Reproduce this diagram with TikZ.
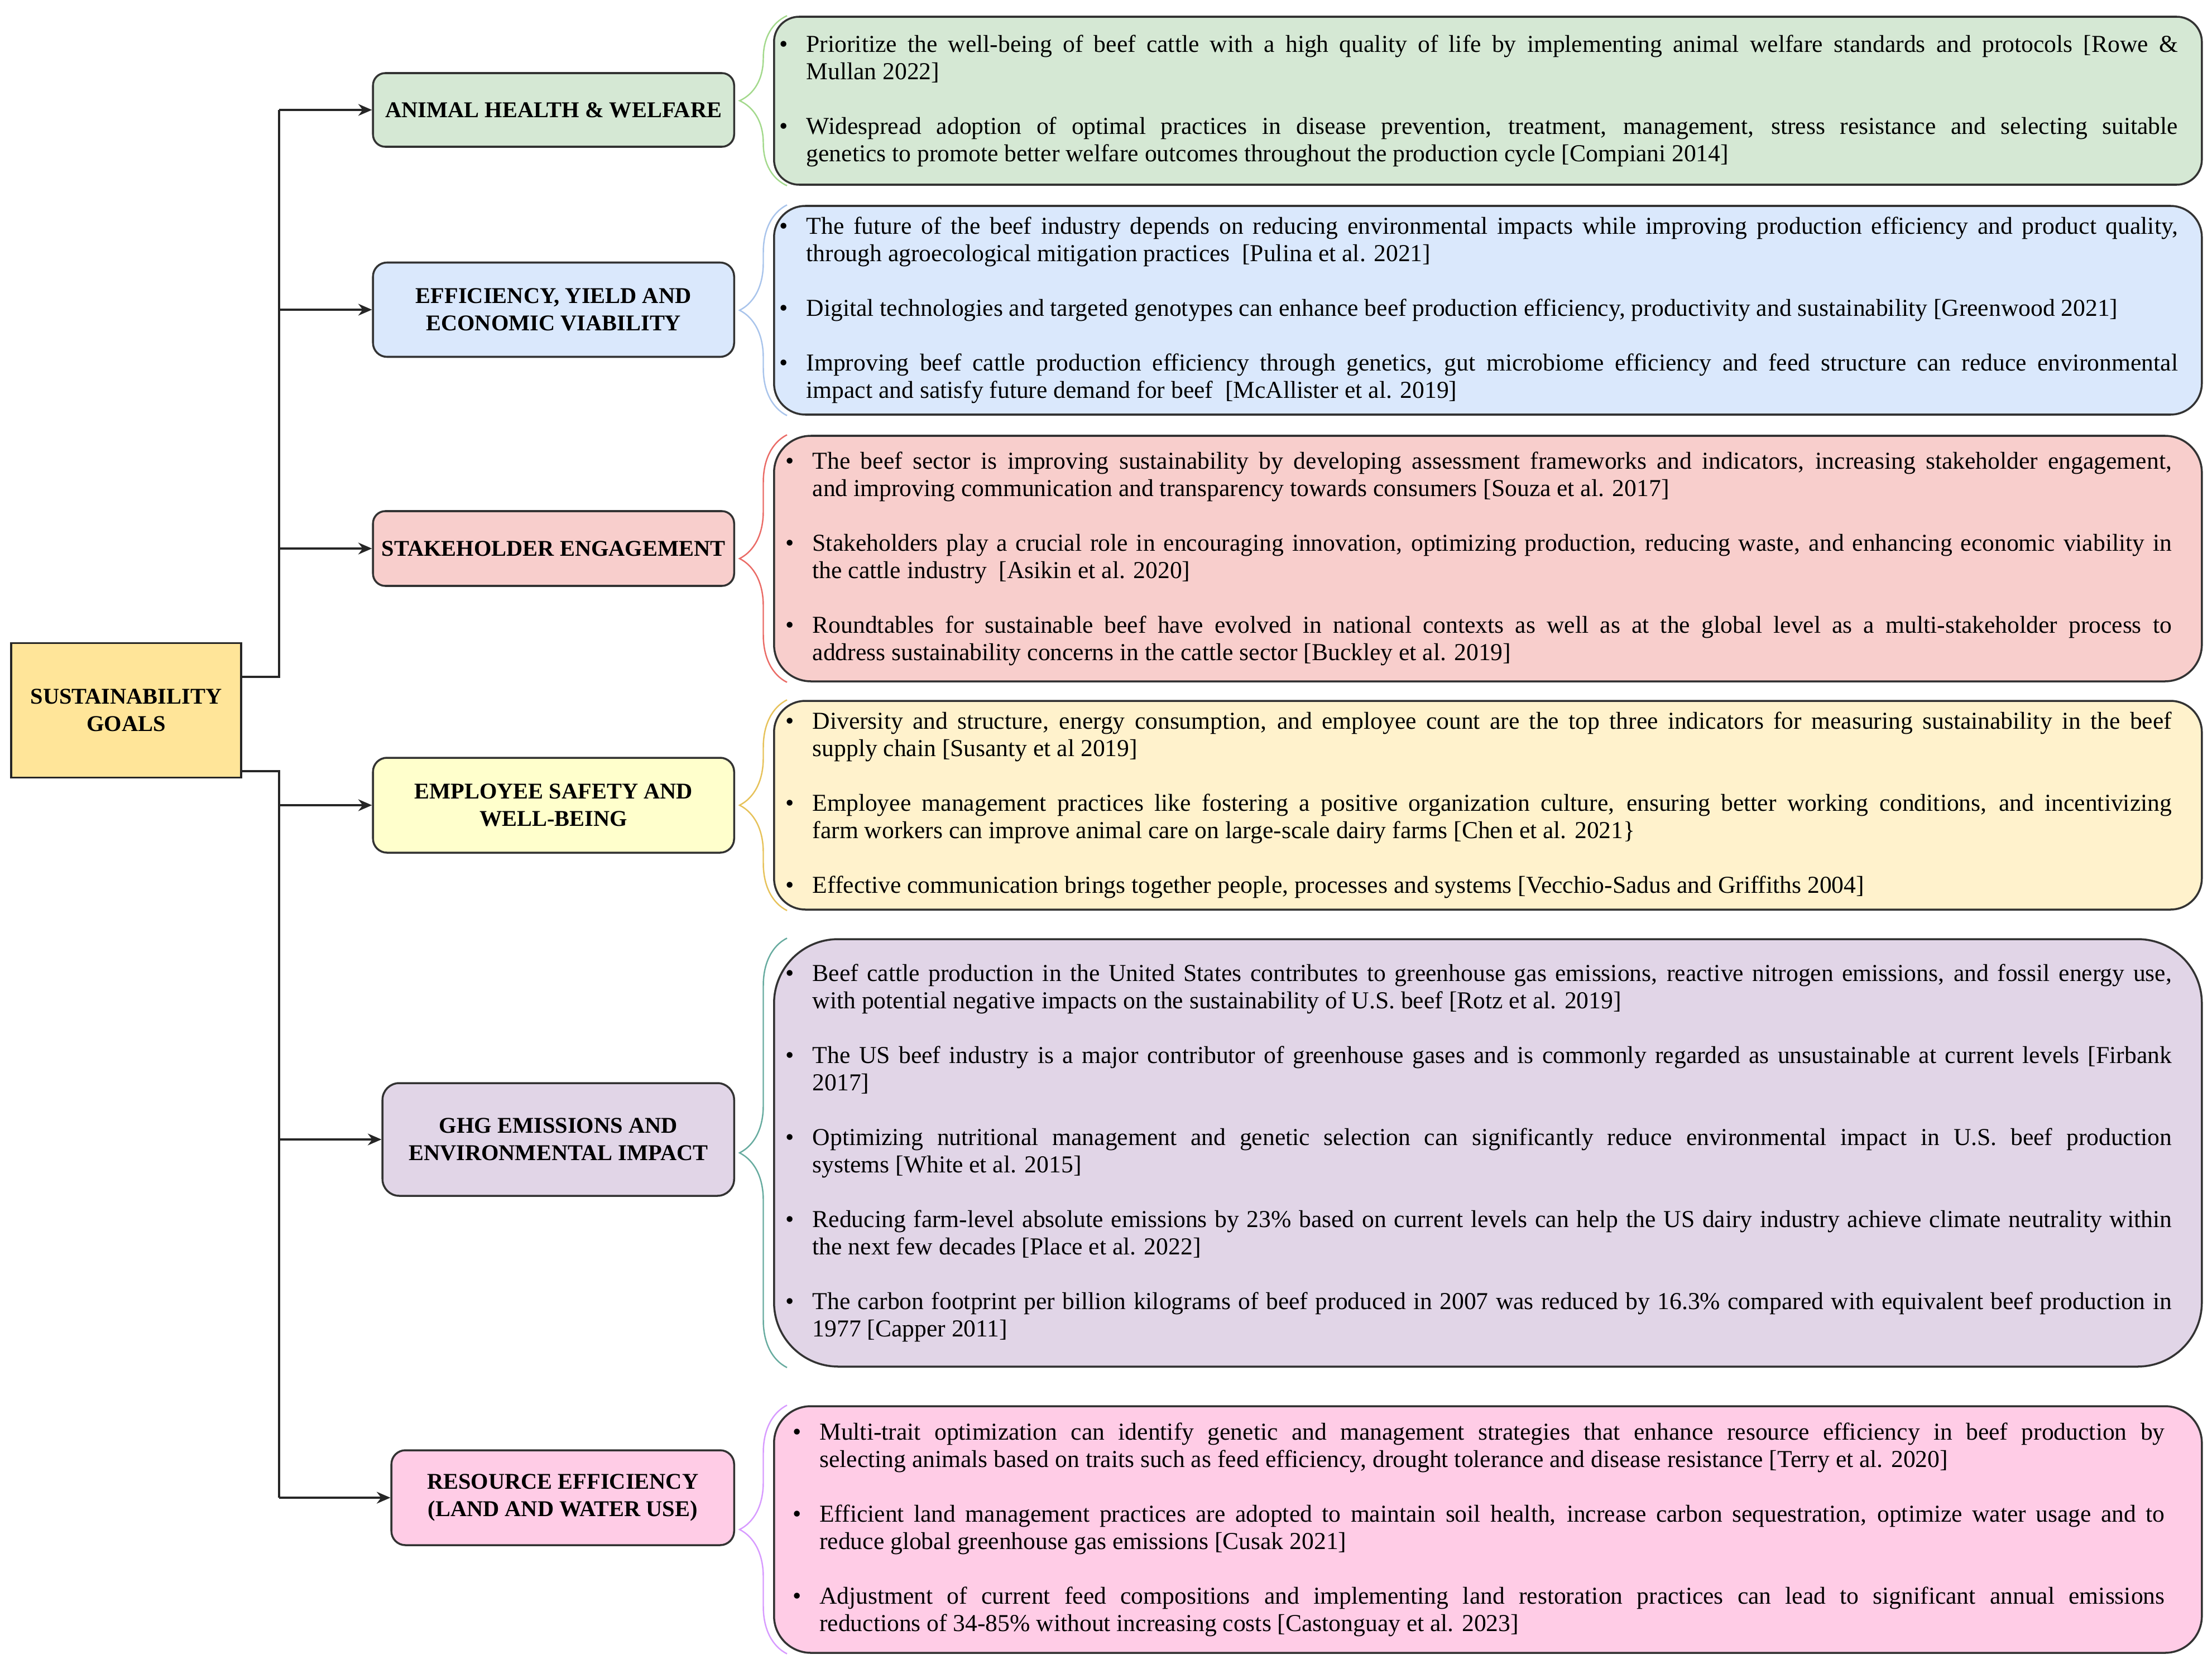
\documentclass[tikz,border=0pt]{standalone}
\usepackage{fontspec}
\setmainfont{Liberation Serif}
\usetikzlibrary{arrows.meta}
\usetikzlibrary{decorations.pathreplacing}

\definecolor{rootfill}{HTML}{FFE599}
\definecolor{greenfill}{HTML}{D5E8D4}
\definecolor{bluefill}{HTML}{DAE8FC}
\definecolor{redfill}{HTML}{F8CECC}
\definecolor{yellowfill}{HTML}{FFF2CC}
\definecolor{paleyellow}{HTML}{FFFFCC}
\definecolor{purplefill}{HTML}{E1D5E7}
\definecolor{pinkfill}{HTML}{FFCCE6}
\definecolor{greenbrace}{HTML}{A3D98C}
\definecolor{bluebrace}{HTML}{A9C4EB}
\definecolor{redbrace}{HTML}{EA6B66}
\definecolor{yellowbrace}{HTML}{E6C25A}
\definecolor{tealbrace}{HTML}{67AB9F}
\definecolor{violetbrace}{HTML}{D79BFF}

\newcommand{\bitem}[1]{\noindent\hangindent=0.15cm\hangafter=1\makebox[0.15cm][l]{\hspace{-0.33cm}\textbullet}#1\par}
\newcommand{\gap}{\vspace{13.94pt}}

\begin{document}
\begin{tikzpicture}[
    rootbox/.style={draw=black!85, line width=1pt, fill=rootfill, align=center,
      font=\bfseries\fontsize{11.5}{14}\selectfont, minimum width=4.12cm, minimum height=2.41cm},
    area/.style={draw=black!80, line width=1pt, rounded corners=0.22cm, align=center, anchor=east,
      font=\bfseries\fontsize{11.5}{14}\selectfont, inner sep=2pt},
    facts/.style={draw=black!80, line width=1pt, anchor=west, minimum width=25.58cm,
      text width=24.72cm, inner xsep=0.43cm, align=justify, font=\fontsize{12.4}{13.94}\selectfont},
    link/.style={line width=1pt, black!85},
    arr/.style={link, -{Stealth[length=7pt,width=6pt]}},
    curly/.style={line width=0.7pt, decorate, decoration={brace, amplitude=0.85cm}}
  ]

    \useasboundingbox (0,0) rectangle (39.63,-29.91);

    \node[rootbox] (sg) at (2.26,-12.73) {SUSTAINABILITY\\GOALS};

    \node[area, fill=greenfill, minimum width=6.47cm, minimum height=1.32cm] (c1) at (13.17,-1.97) {ANIMAL HEALTH \& WELFARE};
    \node[area, fill=bluefill, minimum width=6.47cm, minimum height=1.69cm, rounded corners=0.25cm] (c2) at (13.17,-5.55) {EFFICIENCY, YIELD AND\\ECONOMIC VIABILITY};
    \node[area, fill=redfill, minimum width=6.47cm, minimum height=1.34cm] (c3) at (13.17,-9.83) {STAKEHOLDER ENGAGEMENT};
    \node[area, fill=paleyellow, minimum width=6.47cm, minimum height=1.70cm, rounded corners=0.25cm] (c4) at (13.17,-14.43) {EMPLOYEE SAFETY AND\\WELL-BEING};
    \node[area, fill=purplefill, minimum width=6.30cm, minimum height=2.02cm, rounded corners=0.30cm] (c5) at (13.17,-20.42) {GHG EMISSIONS AND\\ENVIRONMENTAL IMPACT};
    \node[area, fill=pinkfill, minimum width=6.14cm, minimum height=1.70cm, rounded corners=0.25cm] (c6) at (13.17,-26.84) {RESOURCE EFFICIENCY\\(LAND AND WATER USE)};

    \node[facts, fill=greenfill, minimum height=3.01cm, rounded corners=0.45cm] (d1) at (13.85,-1.805) {
      \bitem{Prioritize the well-being of beef cattle with a high quality of life by implementing animal welfare standards and protocols [Rowe \&\linebreak Mullan 2022]}
      \gap
      \bitem{Widespread adoption of optimal practices in disease prevention, treatment, management, stress resistance and selecting suitable\linebreak genetics to promote better welfare outcomes throughout the production cycle [Compiani 2014]}};
    \node[facts, fill=bluefill, minimum height=3.74cm, rounded corners=0.56cm] (d2) at (13.85,-5.56) {
      \bitem{The future of the beef industry depends on reducing environmental impacts while improving production efficiency and product quality,\linebreak through agroecological mitigation practices \ [Pulina et al. 2021]}
      \gap
      \bitem{Digital technologies and targeted genotypes can enhance beef production efficiency, productivity and sustainability [Greenwood 2021]}
      \gap
      \bitem{Improving beef cattle production efficiency through genetics, gut microbiome efficiency and feed structure can reduce environmental\linebreak impact and satisfy future demand for beef \ [McAllister et al. 2019]}};
    \node[facts, fill=redfill, minimum height=4.40cm, rounded corners=0.66cm, text width=24.5cm] (d3) at (13.85,-10.01) {
      \bitem{The beef sector is improving sustainability by developing assessment frameworks and indicators, increasing stakeholder engagement,\linebreak and improving communication and transparency towards consumers [Souza et al. 2017]}
      \gap
      \bitem{Stakeholders play a crucial role in encouraging innovation, optimizing production, reducing waste, and enhancing economic viability in\linebreak the cattle industry \ [Asikin et al. 2020]}
      \gap
      \bitem{Roundtables for sustainable beef have evolved in national contexts as well as at the global level as a multi-stakeholder process to\linebreak address sustainability concerns in the cattle sector [Buckley et al. 2019]}};
    \node[facts, fill=yellowfill, minimum height=3.74cm, rounded corners=0.56cm, text width=24.5cm] (d4) at (13.85,-14.43) {
      \bitem{Diversity and structure, energy consumption, and employee count are the top three indicators for measuring sustainability in the beef\linebreak supply chain [Susanty et al 2019]}
      \gap
      \bitem{Employee management practices like fostering a positive organization culture, ensuring better working conditions, and incentivizing\linebreak farm workers can improve animal care on large-scale dairy farms [Chen et al. 2021\}}
      \gap
      \bitem{Effective communication brings together people, processes and systems [Vecchio-Sadus and Griffiths 2004]}};
    \node[facts, fill=purplefill, minimum height=7.66cm, rounded corners=1.15cm, text width=24.5cm] (d5) at (13.85,-20.66) {
      \bitem{Beef cattle production in the United States contributes to greenhouse gas emissions, reactive nitrogen emissions, and fossil energy use,\linebreak with potential negative impacts on the sustainability of U.S. beef [Rotz et al. 2019]}
      \gap
      \bitem{The US beef industry is a major contributor of greenhouse gases and is commonly regarded as unsustainable at current levels [Firbank\linebreak 2017]}
      \gap
      \bitem{Optimizing nutritional management and genetic selection can significantly reduce environmental impact in U.S. beef production\linebreak systems [White et al. 2015]}
      \gap
      \bitem{Reducing farm-level absolute emissions by 23\% based on current levels can help the US dairy industry achieve climate neutrality within\linebreak the next few decades [Place et al. 2022]}
      \gap
      \bitem{The carbon footprint per billion kilograms of beef produced in 2007 was reduced by 16.3\% compared with equivalent beef production in\linebreak 1977 [Capper 2011]}};
    \node[facts, fill=pinkfill, minimum height=4.42cm, rounded corners=0.66cm, text width=24.25cm] (d6) at (13.85,-27.41) {
      \bitem{Multi-trait optimization can identify genetic and management strategies that enhance resource efficiency in beef production by\linebreak selecting animals based on traits such as feed efficiency, drought tolerance and disease resistance [Terry et al. 2020]}
      \gap
      \bitem{Efficient land management practices are adopted to maintain soil health, increase carbon sequestration, optimize water usage and to\linebreak reduce global greenhouse gas emissions [Cusak 2021]}
      \gap
      \bitem{Adjustment of current feed compositions and implementing land restoration practices can lead to significant annual emissions\linebreak reductions of 34-85\% without increasing costs [Castonguay et al. 2023]}};

    \coordinate (up) at (5.00,-12.13);
    \coordinate (down) at (5.00,-13.82);

    \draw[link] (up -| sg.east) -- (up) -- (up |- c1.west);
    \draw[arr] (up |- c1.west) -- (c1.west);
    \draw[arr] (up |- c2.west) -- (c2.west);
    \draw[arr] (up |- c3.west) -- (c3.west);

    \draw[link] (down -| sg.east) -- (down) -- (down |- c6.west);
    \draw[arr] (down |- c4.west) -- (c4.west);
    \draw[arr] (down |- c5.west) -- (c5.west);
    \draw[arr] (down |- c6.west) -- (c6.west);

    \draw[curly, greenbrace] ([xshift=0.25cm]d1.south west) -- ([xshift=0.25cm]d1.north west);
    \draw[curly, bluebrace] ([xshift=0.25cm]d2.south west) -- ([xshift=0.25cm]d2.north west);
    \draw[curly, redbrace] ([xshift=0.25cm]d3.south west) -- ([xshift=0.25cm]d3.north west);
    \draw[curly, yellowbrace] ([xshift=0.25cm]d4.south west) -- ([xshift=0.25cm]d4.north west);
    \draw[curly, tealbrace] ([xshift=0.25cm]d5.south west) -- ([xshift=0.25cm]d5.north west);
    \draw[curly, violetbrace] ([xshift=0.25cm]d6.south west) -- ([xshift=0.25cm]d6.north west);
  \end{tikzpicture}
\end{document}
